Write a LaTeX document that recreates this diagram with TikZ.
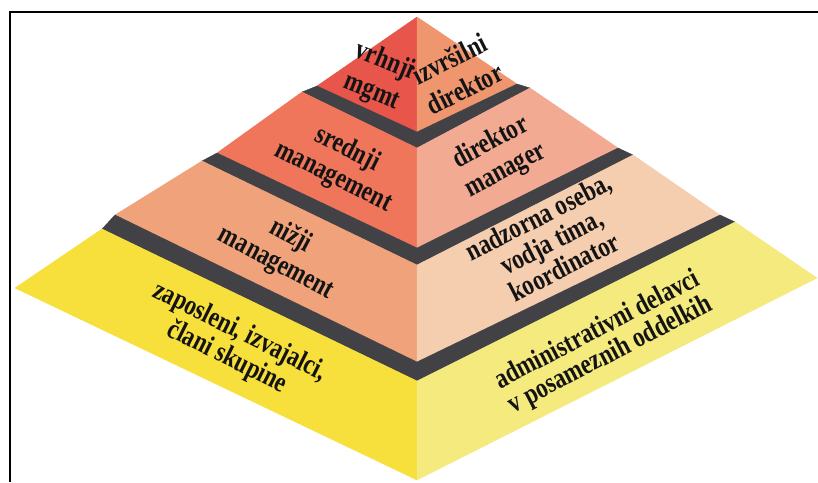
\documentclass[tikz,border=0pt]{standalone}
\usepackage{fontspec}
\setmainfont{Liberation Serif}
\usepackage{graphicx}

% face colours of the four tiers (left face darker, right face lighter)
\definecolor{topL}{HTML}{E8554A}
\definecolor{topR}{HTML}{F0966E}
\definecolor{midL}{HTML}{EF755B}
\definecolor{midR}{HTML}{F2AA92}
\definecolor{lowL}{HTML}{F0A27A}
\definecolor{lowR}{HTML}{F5CDAF}
\definecolor{baseL}{HTML}{F7E03C}
\definecolor{baseR}{HTML}{F4EA7E}
\definecolor{ledge}{HTML}{414146}

% tall, narrow lettering set as a centred stack of lines;
% #1 = line pitch factor, #2 = lines
\newcommand{\tallstack}[2]{\scalebox{1}[1.25]{\def\arraystretch{#1}\begin{tabular}{@{}c@{}}#2\end{tabular}}}

\begin{document}
\begin{tikzpicture}[x=1pt,y=-1pt,
  face/.style={fill=#1,draw=#1,line width=0.4pt,line join=round},
  lbl/.style={font=\fontsize{23}{20}\selectfont\bfseries,inner sep=0pt,text=black!92}]

\useasboundingbox (0,0) rectangle (818,482);
\fill[white] (0,0) rectangle (818,482);

% --- vertices of the tiers ---
\coordinate (apex) at (417,17);
% tier 1
\coordinate (L1) at (317,86);  \coordinate (C1) at (417,132); \coordinate (R1) at (517,84);
\coordinate (B1L) at (302,92); \coordinate (B1C) at (417,148); \coordinate (B1R) at (530,88);
% tier 2
\coordinate (L2) at (217,153); \coordinate (C2) at (417,248); \coordinate (R2) at (618,148);
\coordinate (B2L) at (202,161); \coordinate (B2C) at (417,265); \coordinate (B2R) at (633,155);
% tier 3
\coordinate (L3) at (115,215); \coordinate (C3) at (417,362); \coordinate (R3) at (720,215);
\coordinate (B3L) at (102,229); \coordinate (B3C) at (417,381); \coordinate (B3R) at (735,222);
% tier 4
\coordinate (L4) at (15,288);  \coordinate (C4) at (417,480); \coordinate (R4) at (817,278);

% --- faces ---
\path[face=topL] (apex) -- (L1) -- (C1) -- cycle;
\path[face=topR] (apex) -- (C1) -- (R1) -- cycle;
\path[face=ledge] (L1) -- (C1) -- (R1) -- (B1R) -- (B1C) -- (B1L) -- cycle;

\path[face=midL] (B1L) -- (L2) -- (C2) -- (B1C) -- cycle;
\path[face=midR] (B1C) -- (C2) -- (R2) -- (B1R) -- cycle;
\path[face=ledge] (L2) -- (C2) -- (R2) -- (B2R) -- (B2C) -- (B2L) -- cycle;

\path[face=lowL] (B2L) -- (L3) -- (C3) -- (B2C) -- cycle;
\path[face=lowR] (B2C) -- (C3) -- (R3) -- (B2R) -- cycle;
\path[face=ledge] (L3) -- (C3) -- (R3) -- (B3R) -- (B3C) -- (B3L) -- cycle;

\path[face=baseL] (B3L) -- (L4) -- (C4) -- (B3C) -- cycle;
\path[face=baseR] (B3C) -- (C4) -- (R4) -- (B3R) -- cycle;

% --- frame ---
\draw[line width=2.3pt] (818,12.2) -- (10.2,12.2) -- (10.2,482);

% --- labels, left faces ---
\node[lbl,rotate=-22]   (top)   at (378,77)    {\tallstack{1.32}{vrhnji\\mgmt}};
\node[lbl,rotate=-26.5] (mid)   at (340,164)   {\tallstack{1.24}{srednji\\management}};
\node[lbl,rotate=-28]   (low)   at (283,250.5) {\tallstack{1.24}{nižji\\management}};
\node[lbl,rotate=-26.5] (base)  at (233,346)   {\tallstack{1.08}{zaposleni, izvajalci,\\člani skupine}};

% --- labels, right faces ---
\node[lbl,rotate=26.5]  (topr)  at (458.5,76.5)  {\tallstack{1.34}{izvršilni\\direktor}};
\node[lbl,rotate=28]    (midr)  at (498.5,157.5) {\tallstack{1.24}{direktor\\manager}};
\node[lbl,rotate=27]    (lowr)  at (553,245)     {\tallstack{1.10}{nadzorna oseba,\\vodja tima,\\koordinator}};
\node[lbl,rotate=27.5]  (baser) at (604.5,343.5) {\tallstack{1.02}{administrativni delavci\\v posameznih oddelkih}};
\end{tikzpicture}
\end{document}
